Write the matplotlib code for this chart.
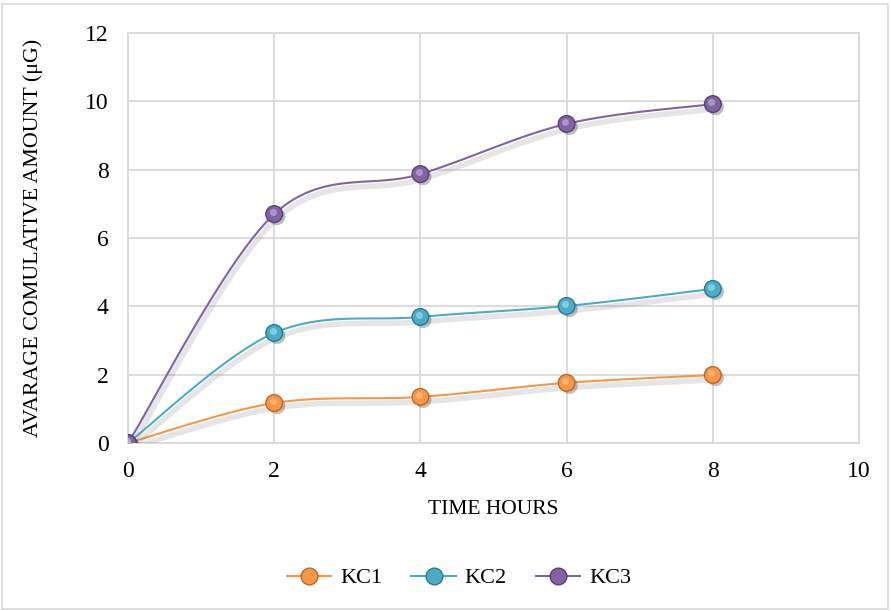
import numpy as np
import matplotlib.pyplot as plt
import matplotlib.patheffects as pe
from matplotlib import transforms
from matplotlib.patches import Rectangle

plt.rcParams['font.family'] = ['Liberation Serif', 'DejaVu Serif']

hours = [0, 2, 4, 6, 8]
kc1 = [0.0, 1.17, 1.35, 1.76, 1.99]
kc2 = [0.0, 3.22, 3.69, 4.01, 4.51]
kc3 = [0.0, 6.70, 7.87, 9.34, 9.92]

series = [
    ("KC1", kc1, "#F79646", "#FBB878", "#B86A2A"),
    ("KC2", kc2, "#4BACC6", "#8ED6EA", "#2E7A8F"),
    ("KC3", kc3, "#8064A2", "#B8A2D6", "#574273"),
]


def smooth(x, y, n=30):
    # cubic Bezier through the points, controls from neighbouring points
    x = np.asarray(x, float)
    y = np.asarray(y, float)
    pts = np.column_stack([x, y])
    out = []
    t = np.linspace(0, 1, n)[:, None]
    for i in range(len(pts) - 1):
        p0 = pts[i]
        p3 = pts[i + 1]
        prev = pts[i - 1] if i > 0 else pts[i]
        nxt = pts[i + 2] if i + 2 < len(pts) else pts[i + 1]
        p1 = p0 + (p3 - prev) / 6
        p2 = p3 - (nxt - p0) / 6
        seg = ((1 - t) ** 3) * p0 + 3 * ((1 - t) ** 2) * t * p1 \
            + 3 * (1 - t) * t ** 2 * p2 + t ** 3 * p3
        out.append(seg if i == 0 else seg[1:])
    seg = np.vstack(out)
    return seg[:, 0], seg[:, 1]


fig = plt.figure(figsize=(8.91, 6.11), dpi=100)
ax = fig.add_axes([128 / 891, 1 - 443 / 611, 731 / 891, 410 / 611])

shadow = [pe.SimpleLineShadow(offset=(1.5, -3.5), shadow_color="gray", alpha=0.2,
                              linewidth=4),
          pe.Normal()]

hl = transforms.offset_copy(ax.transData, fig=fig, x=-1.5, y=2.0, units="dots")
handles = []
for name, vals, col, light, dark in series:
    sx, sy = smooth(hours, vals)
    ax.plot(sx, sy, color=col, lw=1.5, path_effects=shadow, zorder=3)
    ax.plot(hours, vals, linestyle="none", marker="o", ms=12,
            mfc=col, mec=dark, mew=1.0, zorder=4,
            path_effects=[pe.SimplePatchShadow(offset=(2, -2), alpha=0.3), pe.Normal()])
    ax.plot(hours, vals, linestyle="none", marker="o", ms=5,
            mfc=light, mec="none", alpha=0.8, zorder=5, transform=hl)
    h, = ax.plot([], [], color=col, lw=1.5, marker="o", ms=12,
                 mfc=col, mec=dark, mew=1.0, label=name)
    handles.append(h)

ax.set_xlim(0, 10)
ax.set_ylim(0, 12)
ax.set_xticks(range(0, 11, 2))
ax.set_yticks(range(0, 13, 2))
ax.grid(True, color="#D9D9D9", lw=1.3)
ax.set_axisbelow(True)
for sp in ax.spines.values():
    sp.set_color("#D9D9D9")
    sp.set_linewidth(1.3)
ax.tick_params(length=0, labelsize=17)
ax.tick_params(axis="x", pad=13)
ax.tick_params(axis="y", pad=14)

ax.set_xlabel("TIME HOURS", fontsize=15.5)
ax.set_ylabel("AVARAGE COMULATIVE AMOUNT (μG)", fontsize=15.8)
ax.xaxis.set_label_coords(0.5, -(510 - 443) / 410)
ax.yaxis.set_label_coords(-(128 - 33) / 731, 0.5)
ax.xaxis.label.set_va("center")
ax.yaxis.label.set_va("center")

fig.legend(handles=handles, loc="center", bbox_to_anchor=(459 / 891, 1 - 578 / 611),
           ncol=3, frameon=False, fontsize=16, handlelength=2.0, columnspacing=1.3,
           handletextpad=0.4)

fig.patches.append(Rectangle((2 / 891, 2 / 611), 886 / 891, 605 / 611,
                             transform=fig.transFigure, fill=False,
                             edgecolor="#D9D9D9", lw=1.2))

fig.savefig("out.png", dpi=100)
